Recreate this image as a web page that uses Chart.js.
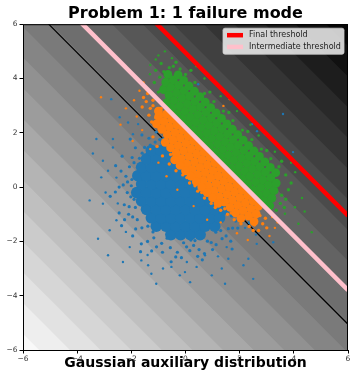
<!DOCTYPE html>
<html>
<head>
<meta charset="utf-8">
<title>Problem 1: 1 failure mode</title>
<script src="https://cdn.jsdelivr.net/npm/chart.js@4.4.1/dist/chart.umd.min.js"></script>
<style>
  html, body { margin: 0; padding: 0; background: #fff; }
  canvas { display: block; }
</style>
</head>
<body>
<canvas id="chart" width="350" height="381"></canvas>
<script>
// Axis ticks
const tickValues = [-6, -4, -2, 0, 2, 4, 6];
const tickLabels = ["\u22126", "\u22124", "\u22122", "0", "2", "4", "6"];

// Thresholds, as values of x + y
const finalThreshold = 4.95;
const intermediateThreshold = 2.2;
const blackContour = 0.95;

// Filled contour edges of the background (x + y)
const contourLevels = [-11.40, -10.27, -9.14, -8.01, -6.88, -5.75, -4.62, -3.49, -2.36, -1.23,
  -0.10, 1.03, 2.16, 3.29, 4.42, 5.55, 6.68, 7.81, 8.94, 10.07, 11.20];

// Samples
const blueCore = [
  [-0.54,-1.75],[-0.18,-1.75],[0.18,-1.75],[0.54,-1.75],
  [-1.08,-1.44],[-0.72,-1.44],[-0.36,-1.44],[0,-1.44],[0.36,-1.44],[0.72,-1.44],[1.08,-1.44],
  [-1.26,-1.13],[-0.9,-1.13],[-0.54,-1.13],[-0.18,-1.13],[0.18,-1.13],[0.54,-1.13],[0.9,-1.13],[1.26,-1.13],
  [-1.44,-0.82],[-1.08,-0.82],[-0.72,-0.82],[-0.36,-0.82],[0,-0.82],[0.36,-0.82],[0.72,-0.82],[1.08,-0.82],[1.44,-0.82],
  [-1.62,-0.51],[-1.26,-0.51],[-0.9,-0.51],[-0.54,-0.51],[-0.18,-0.51],[0.18,-0.51],[0.54,-0.51],[0.9,-0.51],[1.26,-0.51],
  [-1.8,-0.2],[-1.44,-0.2],[-1.08,-0.2],[-0.72,-0.2],[-0.36,-0.2],[0,-0.2],[0.36,-0.2],[0.72,-0.2],[1.08,-0.2],
  [-1.62,0.11],[-1.26,0.11],[-0.9,0.11],[-0.54,0.11],[-0.18,0.11],[0.18,0.11],[0.54,0.11],[0.86,0.11],
  [-1.76,0.42],[-1.44,0.42],[-1.08,0.42],[-0.72,0.42],[-0.36,0.42],[0,0.42],[0.36,0.42],
  [-1.62,0.73],[-1.26,0.73],[-0.9,0.73],[-0.54,0.73],[-0.18,0.73],[0.18,0.73],
  [-1.44,1.04],[-1.08,1.04],[-0.72,1.04],[-0.36,1.04],[0,1.04],
  [-1.26,1.35],[-0.9,1.35],[-0.54,1.35],
  [-0.72,1.66]
];
const blueMid = [
  [-0.75,1.85],[-1.08,2.03],[-1.12,1.66],[-1.61,1.92],[-1.51,1.46],[-1.85,1.45],[-1.7,1.06],[-2.34,1.14],
  [-2.07,0.75],[-2.38,0.59],[-1.98,0.28],[-2.3,0.08],[-2.59,-0.18],[-2.02,-0.36],[-2.26,-0.65],[-1.85,-0.75],
  [-2.25,-1.2],[-1.78,-1.2],[-1.84,-1.54],[-1.39,-1.44],[-1.63,-2.09],[-1.17,-1.87],[-1.07,-2.2],[-0.68,-1.88],
  [-0.56,-2.23],[-0.36,-2.57],[-0.07,-2.05],[0.16,-2.34],[0.35,-1.97],[0.7,-2.45],[0.81,-1.99],[1.13,-2.12],
  [1.12,-1.66],[1.67,-1.99],[1.58,-1.53],[1.93,-1.51],[1.7,-1.06],[2.07,-1.01],[1.97,-0.72],
  [-1.1,2.36],[-1.35,1.8],[-2.04,1.77],[-1.97,1.09],[-2.58,0.79],[-2.14,0.19],[-2.78,-0.34],[-2.08,-0.72],
  [-2.36,-1.42],[-1.61,-1.5],[-1.66,-2.38],[-0.88,-2.07],[-0.53,-2.75],[0.04,-2.2],[0.62,-2.68],[0.95,-2.04],
  [1.72,-2.28],[1.74,-1.51],[2.36,-1.31],[2.29,-0.7],
  [-2.15,-0.2],[-2.2,0.4],[-2.1,-1.0],[-1.95,-1.8],[-1.4,-2.0],[-1.25,-2.35],[-0.85,-2.4],[-0.3,-2.4],
  [0.3,-2.15],[0.5,-2.3],[1.0,-2.3],[1.35,-1.9],[1.5,-1.8],[2.1,-1.25],[2.2,-0.95],[1.85,-1.25],
  [-1.9,0.9],[-1.6,1.25],[-1.3,1.55],[-0.95,1.75],[-0.45,1.9],[-2.45,-0.95],[-2.45,0.0],[-0.15,-2.6],
  [0.45,-2.55],[-1.9,-0.45],[-2.0,0.05],[-1.95,-1.1],[-1.2,-1.65],[0.2,-1.95],[0.6,-1.8],[1.3,-1.6]
];
const blueSparse = [
  [-2.74,3.24],[-2.43,2.57],[-2.12,2.38],[-3.29,1.77],[-3.42,1.24],[-2.68,1.77],[-3.05,0.97],[-2.86,0.6],
  [-3.11,0.36],[-2.68,1.46],[-1.94,1.95],[-1.75,2.32],[-3.54,-0.49],[-3.23,-1.9],[-2.86,-2.51],[-2.31,-2.76],
  [-2.8,-1.59],[-3.05,-0.61],[-1.63,-2.7],[-1.26,-3.19],[-1.08,-3.56],[-0.83,-3.0],[-0.52,-2.94],[-0.21,-3.25],
  [-1.38,-2.88],[-2.06,-2.21],[-2.55,-1.22],[-0.02,-3.13],[0.41,-2.94],[1.46,-3.56],[2.5,-3.38],[2.14,-2.88],
  [2.32,-2.64],[1.34,-3.0],[0.97,-3.25],[0.17,-3.5],[0.05,-2.76],[2.63,-2.09],[3.24,-2.03],[1.58,-2.64],
  [0.72,-2.51],[1.52,-2.21],[2.46,2.32],[2.64,2.06],[2.94,1.95],[3.97,1.29],[3.6,2.69],[0.47,3.79],
  [-2.5,-0.6],[-2.95,-0.2],[-2.2,-1.65],[2.2,-1.5],[2.6,-1.75],[-2.55,0.35],[-1.4,-2.5],[1.2,-2.55]
];

const orangeCore = [
  [-0.71,2.69],[-0.51,2.49],[-0.31,2.29],[-0.11,2.09],[0.09,1.89],[0.29,1.69],[0.49,1.49],[0.69,1.29],[0.89,1.09],[1.09,0.89],
  [1.29,0.69],[1.49,0.49],[1.69,0.29],[1.89,0.09],[2.09,-0.11],[2.29,-0.31],[2.49,-0.51],[2.69,-0.71],
  [-0.99,2.61],[-0.79,2.41],[-0.59,2.21],[-0.39,2.01],[-0.19,1.81],[0.01,1.61],[0.21,1.41],[0.41,1.21],[0.61,1.01],[0.81,0.81],
  [1.01,0.61],[1.21,0.41],[1.41,0.21],[1.61,0.01],[1.81,-0.19],[2.01,-0.39],[2.21,-0.59],[2.41,-0.79],[2.61,-0.99],
  [-1.07,2.33],[-0.87,2.13],[-0.67,1.93],[-0.47,1.73],[-0.27,1.53],[-0.07,1.33],[0.13,1.13],[0.33,0.93],[0.53,0.73],[0.73,0.53],
  [0.93,0.33],[1.13,0.13],[1.33,-0.07],[1.53,-0.27],[1.73,-0.47],[1.93,-0.67],[2.13,-0.87],[2.33,-1.07],[2.53,-1.27],
  [-0.75,1.65],[-0.55,1.45],[-0.35,1.25],[-0.15,1.05],[0.05,0.85],[0.25,0.65],[0.45,0.45],[0.65,0.25],
  [0.85,0.05],[1.05,-0.15],[1.25,-0.35],[1.45,-0.55],[1.65,-0.75],[1.85,-0.95],[2.05,-1.15],
  [-0.4,1.0],[-0.2,0.8],[0.0,0.6],[0.2,0.4],[0.4,0.2],[0.6,0.0],[0.8,-0.2],[1.0,-0.4],[1.2,-0.6],
  [-1.0,2.8]
];
const orangeMid = [
  [-1.05,2.75],[-1.2,3.0],[-0.95,2.45],[-1.1,2.55],[-1.3,2.9],[-1.45,3.15],[-0.9,2.9],[-1.0,2.2],[-1.25,2.4],[-1.35,2.65],
  [-1.55,3.3],[-1.4,3.45],[-1.6,2.95],[-1.2,3.2],
  [2.6,-1.2],[2.75,-1.05],[2.55,-1.4],[2.85,-1.35],[2.95,-1.15],[2.5,-1.6],[2.7,-1.6],[3.0,-1.5],[2.45,-1.25],[2.35,-1.45],
  [-0.6,0.85],[-0.35,0.6],[-0.1,0.45],[0.15,0.15],[0.45,-0.15],[0.7,-0.4],[0.95,-0.6],[1.3,-0.85],[1.55,-1.0],
  [1.8,-1.2],[2.05,-1.35],[-0.85,1.15],[-1.05,1.5],[-1.2,1.85],[-0.55,1.2],[-0.3,0.95],[0.05,0.35],[0.35,0.05],
  [0.6,-0.2],[1.1,-0.75],[1.45,-0.8],[1.7,-0.95]
];
const orangeSparse = [
  [-3.12,3.31],[-1.43,3.57],[-1.7,3.55],[-1.55,3.85],[-1.9,3.2],[-2.2,2.9],[-1.8,2.6],[-2.4,2.3],[-1.6,2.1],
  [-1.95,1.7],[-1.3,1.4],[-1.0,0.9],[-0.7,0.4],[-0.3,-0.1],[0.3,-0.7],[0.8,-1.2],[1.3,-1.3],[1.9,-1.7],
  [2.3,-1.95],[3.1,-1.8],[3.3,-1.5],[3.2,-1.1],[2.95,-0.75],[3.4,-1.3],[0.1,3.36],[1.4,2.99],[1.64,3.24],[0.47,3.36]
];

const greenCore = [
  [-0.69,3.11],[-0.49,2.91],[-0.29,2.71],[-0.09,2.51],[0.11,2.31],[0.31,2.11],[0.51,1.91],[0.71,1.71],[0.91,1.51],[1.11,1.31],[1.31,1.11],
  [1.51,0.91],[1.71,0.71],[1.91,0.51],[2.11,0.31],[2.31,0.11],[2.51,-0.09],[2.71,-0.29],[2.91,-0.49],[3.11,-0.69],
  [-0.81,3.59],[-0.61,3.39],[-0.41,3.19],[-0.21,2.99],[-0.01,2.79],[0.19,2.59],[0.39,2.39],[0.59,2.19],[0.79,1.99],[0.99,1.79],[1.19,1.59],[1.39,1.39],
  [1.59,1.19],[1.79,0.99],[1.99,0.79],[2.19,0.59],[2.39,0.39],[2.59,0.19],[2.79,-0.01],[2.99,-0.21],[3.19,-0.41],
  [-0.73,3.87],[-0.53,3.67],[-0.33,3.47],[-0.13,3.27],[0.07,3.07],[0.27,2.87],[0.47,2.67],[0.67,2.47],[0.87,2.27],[1.07,2.07],[1.27,1.87],[1.47,1.67],
  [1.67,1.47],[1.87,1.27],[2.07,1.07],[2.27,0.87],[2.47,0.67],[2.67,0.47],[2.87,0.27],[3.07,0.07],[3.27,-0.13],
  [-0.65,4.15],[-0.45,3.95],[-0.25,3.75],[-0.05,3.55],[0.15,3.35],[0.35,3.15],[0.55,2.95],[0.75,2.75],[0.95,2.55],[1.15,2.35],[1.35,2.15],[1.55,1.95],
  [1.75,1.75],[1.95,1.55],[2.15,1.35],[2.35,1.15],[2.55,0.95],[2.75,0.75],[2.95,0.55],[3.15,0.35],[3.35,0.15],
  [-0.27,4.13],[-0.07,3.93],[0.13,3.73],[0.33,3.53],[0.53,3.33],[0.73,3.13],[0.93,2.93],[1.13,2.73],[1.33,2.53],[1.53,2.33],[1.73,2.13],
  [1.93,1.93],[2.13,1.73],[2.33,1.53],[2.53,1.33],[2.73,1.13],[2.93,0.93],[3.13,0.73],[3.33,0.53]
];
const greenMid = [
  [0.0,4.15],[0.35,3.85],[0.7,3.45],[1.05,3.15],[1.4,2.8],[1.75,2.45],[2.1,2.1],[2.45,1.75],[2.8,1.4],[3.15,1.05],
  [3.45,0.75],[3.7,0.45],[0.2,4.3],[0.9,3.5],[1.6,2.75],[2.3,2.05],[3.0,1.35],[3.55,0.95],
  [-0.7,3.9],[-0.85,3.7],[-0.6,4.4],[-0.45,4.45],[-0.95,4.05],[-1.0,3.5],[-0.8,4.25],[-0.2,4.35],
  [-1.1,4.3],[-0.9,4.55],[-0.35,4.6],[-1.15,3.85],
  [3.5,-0.6],[3.7,-0.45],[3.55,-0.3],[3.8,-0.1],[3.9,0.15],[3.35,-0.85],[3.65,-0.75]
];
const greenSparse = [
  [4.04,-0.74],[4.3,-0.4],[4.05,0.55],[3.9,0.9],[2.7,1.9],[1.9,2.8],[0.7,4.0],[-1.31,4.16],[-1.1,4.7],
  [0.4,4.45],[1.3,3.35],[3.3,1.3],[4.4,-0.9],[-0.76,5.0],[-0.5,4.75],[-1.0,4.85],[2.4,2.3],[4.66,-1.66],
  [4.17,-1.35],[3.67,-0.98],[-1.3,4.5]
];

const BLUE = "#1f77b4", ORANGE = "#ff7f0e", GREEN = "#2ca02c";

function cloud(points, color, radius) {
  return {
    data: points.map(([x, y]) => ({ x, y })),
    backgroundColor: color,
    borderWidth: 0,
    pointRadius: radius,
    pointHoverRadius: radius,
    pointStyle: "circle"
  };
}

// straight line x + y = c across the plot
function threshold(c, color, width, label) {
  return {
    label: label,
    data: [{ x: -6, y: c + 6 }, { x: 6, y: c - 6 }],
    showLine: true,
    borderColor: color,
    backgroundColor: color,
    borderWidth: width,
    pointRadius: 0,
    clip: 0
  };
}

// bottom to top
const layers = [
  threshold(blackContour, "#000", 1.2),
  cloud(blueSparse, BLUE, 1.2),
  cloud(blueMid, BLUE, 1.6),
  cloud(blueCore, BLUE, 5.8),
  cloud(orangeSparse, ORANGE, 1.2),
  cloud(orangeMid, ORANGE, 1.7),
  cloud(orangeCore, ORANGE, 4.4),
  cloud(greenSparse, GREEN, 1.2),
  cloud(greenMid, GREEN, 1.7),
  cloud(greenCore, GREEN, 4.4),
  threshold(intermediateThreshold, "#ffc0cb", 4.5, "Intermediate threshold"),
  threshold(finalThreshold, "#ff0000", 4.5, "Final threshold")
];
layers.forEach((d, i) => { d.order = layers.length - i; });

// grey filled contours behind everything
const bandsPlugin = {
  id: "bands",
  beforeDatasetsDraw(chart) {
    const { ctx, chartArea: a, scales: { x, y } } = chart;
    const edges = [-40, ...contourLevels];
    const n = edges.length;
    ctx.save();
    ctx.beginPath();
    ctx.rect(a.left, a.top, a.width, a.height);
    ctx.clip();
    for (let i = 0; i < n; i++) {
      const lo = edges[i];
      const g = Math.round(255 * (1 - (i + 0.5) / n));
      ctx.fillStyle = `rgb(${g},${g},${g})`;
      ctx.beginPath();
      ctx.moveTo(x.getPixelForValue(-20), y.getPixelForValue(lo + 20));
      ctx.lineTo(x.getPixelForValue(20), y.getPixelForValue(lo - 20));
      ctx.lineTo(x.getPixelForValue(20), y.getPixelForValue(20));
      ctx.lineTo(x.getPixelForValue(-20), y.getPixelForValue(60));
      ctx.closePath();
      ctx.fill();
    }
    ctx.restore();
  }
};

// frame and the legend box in the upper right corner
const framePlugin = {
  id: "frame",
  afterDatasetsDraw(chart) {
    const { ctx, chartArea: a } = chart;
    ctx.save();
    ctx.strokeStyle = "#000";
    ctx.lineWidth = 1;
    ctx.strokeRect(a.left + 0.5, a.top + 0.5, a.width - 1, a.height);

    const items = chart.data.datasets.filter(d => d.label).reverse();
    const left = a.right - 125, top = a.top + 4, w = 121, h = 26;
    ctx.fillStyle = "rgba(255,255,255,0.8)";
    ctx.strokeStyle = "rgba(204,204,204,0.8)";
    ctx.beginPath();
    ctx.roundRect(left, top, w, h, 2);
    ctx.fill();
    ctx.stroke();

    ctx.font = "8px 'DejaVu Sans'";
    ctx.textBaseline = "middle";
    items.forEach((d, i) => {
      const yy = top + 7 + i * 11.7;
      ctx.strokeStyle = d.borderColor;
      ctx.lineWidth = d.borderWidth;
      ctx.beginPath();
      ctx.moveTo(left + 4, yy);
      ctx.lineTo(left + 20, yy);
      ctx.stroke();
      ctx.fillStyle = "#222";
      ctx.fillText(d.label, left + 26, yy);
    });
    ctx.restore();
  }
};

const tickFont = { family: "'DejaVu Sans'", size: 7.5 };

new Chart(document.getElementById("chart"), {
  type: "scatter",
  data: { datasets: layers },
  options: {
    responsive: false,
    animation: false,
    devicePixelRatio: 1,
    events: [],
    layout: { autoPadding: false, padding: { left: 0, right: 2, top: 0, bottom: 0 } },
    plugins: {
      legend: { display: false },
      tooltip: { enabled: false },
      title: {
        display: true,
        fullSize: false,
        text: "Problem 1: 1 failure mode",
        color: "#000",
        font: { family: "'DejaVu Sans'", size: 16, weight: "bold" },
        padding: { top: 4, bottom: 1 }
      }
    },
    scales: {
      x: {
        type: "linear",
        min: -6, max: 6,
        afterBuildTicks: s => { s.ticks = tickValues.map(v => ({ value: v })); },
        afterFit: s => { s.height = 31; s.paddingLeft = 0; s.paddingRight = 0; },
        ticks: {
          font: tickFont, color: "#333", padding: 1, maxRotation: 0,
          callback: v => tickLabels[tickValues.indexOf(v)]
        },
        grid: { drawOnChartArea: false, drawTicks: true, tickLength: 3.5, color: "#000" },
        border: { display: false },
        title: {
          display: true,
          text: "Gaussian auxiliary distribution",
          color: "#000",
          font: { family: "'DejaVu Sans'", size: 14, weight: "bold" },
          padding: { top: 0, bottom: 9 }
        }
      },
      y: {
        type: "linear",
        min: -6, max: 6,
        afterBuildTicks: s => { s.ticks = tickValues.map(v => ({ value: v })); },
        afterFit: s => { s.width = 23; s.paddingTop = 0; s.paddingBottom = 0; },
        ticks: {
          font: tickFont, color: "#333", padding: 2,
          callback: v => tickLabels[tickValues.indexOf(v)]
        },
        grid: { drawOnChartArea: false, drawTicks: true, tickLength: 3.5, color: "#000" },
        border: { display: false }
      }
    }
  },
  plugins: [bandsPlugin, framePlugin]
});
</script>
</body>
</html>
